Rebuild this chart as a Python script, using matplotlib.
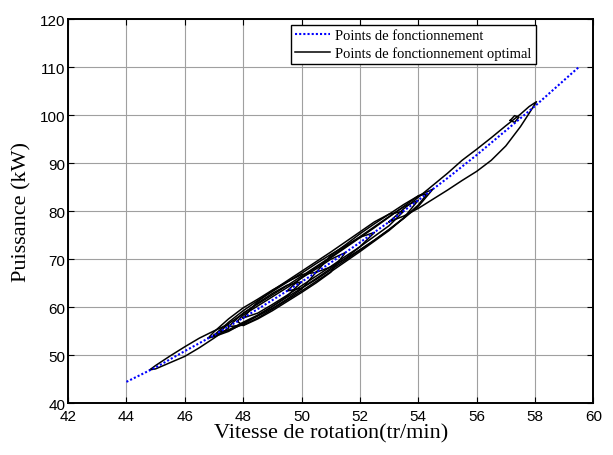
import matplotlib
matplotlib.use('Agg')
import matplotlib.pyplot as plt

# operating points (blue dotted curve)
vit = [44.0, 45.0, 46.0, 47.0, 48.0, 49.0, 50.0, 51.0, 52.0, 53.0, 54.0, 55.0, 56.0, 57.0, 58.0, 59.0, 59.5]
puis = [44.5, 47.5, 50.9, 54.2, 57.8, 61.5, 65.3, 69.3, 73.5, 77.8, 82.3, 86.9, 91.7, 96.8, 101.9, 107.3, 110.0]

# optimal operating points: loops (x, upper branch, lower branch)
loops = [
    ([44.8, 45.0, 45.5, 46.0, 46.5, 47.0, 47.5],
     [47.0, 47.9, 49.9, 51.8, 53.6, 55.1, 56.5],
     [47.0, 47.2, 48.5, 49.8, 51.6, 53.6, 55.7]),
    ([47.0, 47.5, 48.0, 48.5, 49.0, 49.5, 50.0, 50.5, 51.0, 51.5, 52.0, 52.5],
     [54.2, 56.9, 59.3, 61.4, 63.3, 65.2, 67.1, 69.1, 71.0, 72.8, 74.6, 75.6],
     [54.2, 55.2, 56.5, 58.3, 60.2, 62.1, 64.0, 66.0, 68.1, 70.2, 72.6, 75.6]),
    ([47.5, 48.0, 48.5, 49.0, 49.5, 50.0, 50.5, 51.0, 51.5, 52.0, 52.5, 53.0, 53.5, 54.0],
     [56.0, 58.8, 60.7, 62.6, 64.5, 66.5, 68.5, 70.5, 72.6, 74.7, 76.8, 78.9, 80.9, 82.3],
     [56.0, 56.3, 57.8, 59.6, 61.5, 63.4, 65.4, 67.4, 69.5, 71.6, 73.8, 76.0, 78.6, 82.3]),
    ([48.0, 48.5, 49.0, 49.5, 50.0, 50.5, 51.0, 51.5, 52.0, 52.5, 53.0, 53.5],
     [57.8, 61.2, 63.5, 65.5, 67.5, 69.5, 71.5, 73.6, 75.7, 77.8, 79.4, 80.0],
     [57.8, 58.8, 60.6, 62.5, 64.5, 66.5, 68.5, 70.6, 72.6, 74.8, 77.0, 80.0]),
    ([49.5, 50.0, 50.5, 51.0, 51.5, 52.0, 52.5, 53.0, 53.5, 54.0, 54.5],
     [63.4, 66.2, 68.3, 70.3, 72.4, 74.5, 76.6, 78.8, 81.0, 83.2, 84.6],
     [63.4, 64.0, 65.8, 67.8, 69.8, 71.9, 74.0, 76.2, 78.5, 81.0, 84.6]),
    ([47.8, 48.0, 48.5, 49.0, 49.5, 50.0, 50.5, 51.0, 51.5],
     [57.1, 58.4, 60.3, 62.2, 64.1, 66.1, 68.0, 70.0, 71.4],
     [57.1, 56.2, 57.6, 59.3, 61.2, 63.1, 65.1, 67.3, 71.4]),
    ([46.8, 47.0, 47.5, 48.0, 48.5, 49.0, 49.5, 50.0, 50.5],
     [53.6, 54.9, 57.6, 59.9, 61.7, 63.6, 65.3, 66.8, 67.3],
     [53.6, 53.9, 55.0, 56.7, 58.2, 59.8, 61.7, 63.8, 67.3]),
    ([50.5, 51.0, 51.5, 52.0, 52.5, 53.0, 53.5, 54.0, 54.3],
     [67.3, 70.8, 73.0, 75.3, 77.4, 79.4, 81.4, 83.2, 83.6],
     [67.3, 68.4, 70.1, 72.0, 74.0, 76.2, 78.6, 81.3, 83.6]),
    ([47.2, 47.5, 48.0, 48.5, 49.0, 49.5, 50.0],
     [54.9, 56.6, 58.7, 60.9, 62.9, 64.6, 65.3],
     [54.9, 55.3, 56.9, 58.4, 60.2, 62.3, 65.3]),
    ([53.0, 53.5, 54.0, 54.5, 55.0, 55.5, 56.0, 56.5, 57.0, 57.5, 57.8, 58.05],
     [77.8, 80.5, 82.9, 85.4, 87.9, 90.6, 92.9, 95.3, 97.8, 100.2, 101.8, 102.8],
     [77.8, 79.0, 80.6, 82.5, 84.4, 86.4, 88.3, 90.6, 93.6, 97.6, 100.4, 102.8]),
    ([57.15, 57.3, 57.45],
     [98.9, 99.9, 99.6],
     [98.9, 98.5, 99.6]),
]

fig = plt.figure(figsize=(6.13, 4.56), dpi=100)
ax = fig.add_axes([0.111, 0.113, 0.857, 0.843])

first = True
for xs, up, lo in loops:
    px = xs + xs[::-1]
    py = up + lo[::-1]
    ax.plot(px, py, color='black', lw=1.1, zorder=2,
            label='Points de fonctionnement optimal' if first else None)
    first = False

ax.plot(vit, puis, color='blue', lw=1.5, dashes=(1, 1), zorder=3,
        label='Points de fonctionnement')

ax.set_xlim(42, 60)
ax.set_ylim(40, 120)
ax.set_xticks(range(42, 61, 2))
ax.set_yticks(range(40, 121, 10))
ax.grid(True, color='#a0a0a0', lw=0.8)
ax.set_axisbelow(True)
ax.tick_params(direction='in', top=True, right=True, labelsize=11, length=4, pad=2)
ax.tick_params(axis='x', pad=4)
for lab in ax.get_xticklabels() + ax.get_yticklabels():
    lab.set_family('Liberation Sans')
for sp in ax.spines.values():
    sp.set_linewidth(1.4)

ax.set_xlabel('Vitesse de rotation(tr/min)', family='Liberation Serif', fontsize=16, labelpad=0)
ax.set_ylabel('Puissance (kW)', family='Liberation Serif', fontsize=16, labelpad=6)

h, l = ax.get_legend_handles_labels()
leg = ax.legend(h[::-1], l[::-1], loc='upper right', bbox_to_anchor=(0.89, 0.985),
                prop={'family': 'Liberation Serif', 'size': 10.5}, fancybox=False,
                framealpha=1, edgecolor='black', handlelength=2.4, borderpad=0.3,
                labelspacing=0.25, handletextpad=0.3, borderaxespad=0)
leg.get_frame().set_linewidth(1.0)

fig.savefig('out.png', dpi=100)
